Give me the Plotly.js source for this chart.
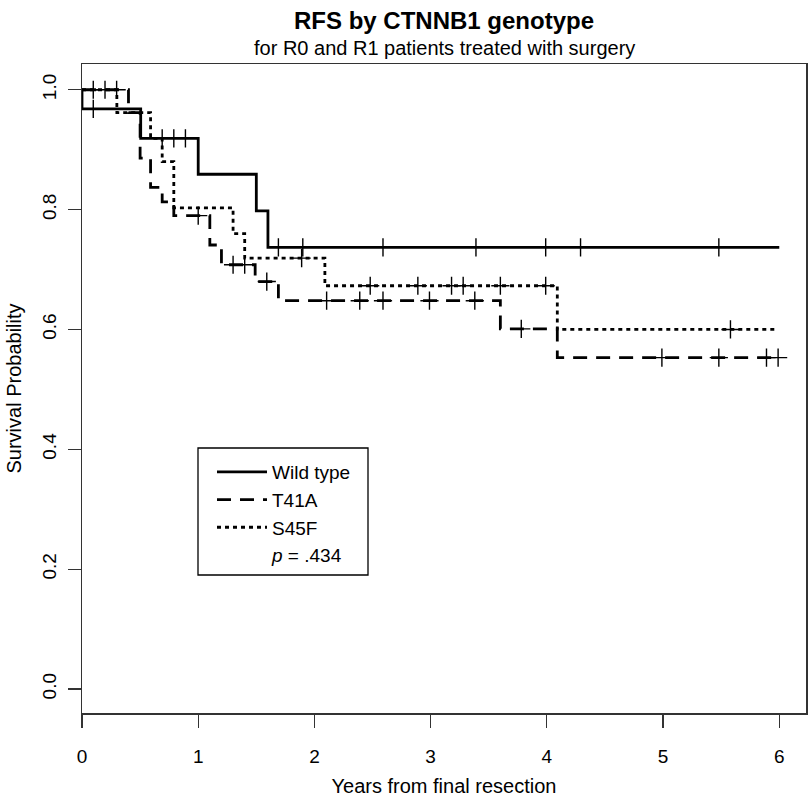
<!DOCTYPE html>
<html>
<head>
<meta charset="utf-8">
<script src="https://cdn.plot.ly/plotly-3.0.1.min.js"></script>
<style>html,body{margin:0;padding:0;background:#fff;}#chart{width:808px;height:801px;}</style>
</head>
<body>
<div id="chart"></div>
<script>
// Kaplan-Meier step data
const seriesNames = ["Wild type", "T41A", "S45F"];
const pLabel = "<i>p</i> = .434";

// Wild type
const wtTimes = [0, 0, 0.505, 1.0, 1.5, 1.6, 6.0];
const wtSurv  = [1.0, 0.968, 0.919, 0.859, 0.798, 0.737, 0.737];
const wtCensor = [0.097, 0.69, 0.79, 0.89, 1.69, 1.90, 2.59, 3.39, 3.99, 4.29, 5.48];

// T41A
const t41Times = [0, 0.40, 0.50, 0.59, 0.69, 0.79, 1.10, 1.20, 1.49, 1.69, 3.60, 4.09, 5.99];
const t41Surv  = [1.0, 0.962, 0.886, 0.837, 0.813, 0.790, 0.741, 0.708, 0.680, 0.648, 0.601, 0.553, 0.553];
const t41Censor = [0.097, 0.198, 0.298, 1.0, 1.30, 1.40, 1.59, 2.105, 2.39, 2.59, 2.99, 3.38, 3.78, 4.99, 5.48, 5.89, 5.99];

// S45F
const s45Times = [0, 0.30, 0.59, 0.69, 0.79, 1.30, 1.40, 2.09, 4.09, 5.96];
const s45Surv  = [1.0, 0.962, 0.919, 0.880, 0.803, 0.760, 0.719, 0.673, 0.600, 0.600];
const s45Censor = [1.89, 2.48, 2.89, 3.18, 3.28, 3.60, 3.99, 5.58];

const xTicks = [0, 1, 2, 3, 4, 5, 6];
const yTicks = [0, 0.2, 0.4, 0.6, 0.8, 1.0];

function stepAt(times, surv, t) {
  let s = surv[0];
  for (let i = 0; i < times.length; i++) {
    if (times[i] <= t) s = surv[i]; else break;
  }
  return s;
}

const dashes = ["solid", "14px,9px", "4px,4px"];
const groups = [
  [wtTimes, wtSurv, wtCensor],
  [t41Times, t41Surv, t41Censor],
  [s45Times, s45Surv, s45Censor]
];

const traces = [];
groups.forEach((g, i) => {
  traces.push({
    x: g[0], y: g[1], type: "scatter", mode: "lines",
    line: {shape: "hv", color: "#000", width: 2.8, dash: dashes[i]},
    name: seriesNames[i], showlegend: true, hoverinfo: "skip"
  });
});
groups.forEach((g, i) => {
  traces.push({
    x: g[2], y: g[2].map(t => stepAt(g[0], g[1], t)),
    type: "scatter", mode: "markers",
    marker: {symbol: "cross-thin-open", size: 13, color: "#000", line: {color: "#000", width: 1.4}},
    showlegend: false, hoverinfo: "skip"
  });
});
traces.push({x: [null], y: [null], type: "scatter", mode: "lines",
  line: {width: 0, color: "rgba(0,0,0,0)"}, name: pLabel, showlegend: true, hoverinfo: "skip"});

const font = "Liberation Sans, Arial, sans-serif";
const layout = {
  width: 808, height: 801,
  margin: {l: 82, r: 2, t: 64, b: 88},
  paper_bgcolor: "#fff", plot_bgcolor: "#fff",
  font: {family: font, size: 20, color: "#000"},
  showlegend: true,
  title: {text: "<b>RFS by CTNNB1 genotype</b>", font: {family: font, size: 24, color: "#000"},
          x: 0.5, xref: "paper", xanchor: "center", y: 1 - 21/801, yref: "container", yanchor: "middle"},
  xaxis: {
    range: [0, 6.23], tickvals: xTicks, ticktext: xTicks.map(String),
    ticks: "outside", ticklen: 13, tickwidth: 1.3, tickcolor: "#333",
    showline: true, mirror: true, linecolor: "#333", linewidth: 1.5,
    showgrid: false, zeroline: false, automargin: false,
    tickfont: {size: 19}, ticklabelstandoff: 13,
    title: {text: "Years from final resection", font: {size: 20}, standoff: 12}
  },
  yaxis: {
    range: [-0.04, 1.043], tickvals: yTicks, ticktext: yTicks.map(v => v.toFixed(1)),
    ticks: "outside", ticklen: 13, tickwidth: 1.3, tickcolor: "#333", tickangle: -90,
    showline: true, mirror: true, linecolor: "#333", linewidth: 1.5,
    showgrid: false, zeroline: false, automargin: false,
    tickfont: {size: 19}, ticklabelstandoff: 4,
    title: {text: "Survival Probability", font: {size: 20}, standoff: 12}
  },
  legend: {
    x: (212 - 82) / 724, y: (713 - 453) / 649, xanchor: "left", yanchor: "top", xref: "paper", yref: "paper",
    bgcolor: "rgba(0,0,0,0)", borderwidth: 0, font: {size: 19},
    itemwidth: 50, tracegroupgap: 0
  },
  shapes: [{type: "rect", xref: "paper", yref: "paper",
    x0: (198 - 82) / 724, x1: (368 - 82) / 724, y0: (713 - 575) / 649, y1: (713 - 448) / 649,
    line: {color: "#000", width: 1.3}}],
  annotations: [{text: "for R0 and R1 patients treated with surgery", xref: "paper", yref: "paper",
    x: 0.5, y: (713 - 48) / 649, xanchor: "center", yanchor: "middle", showarrow: false,
    font: {size: 20, color: "#000"}}]
};

Plotly.newPlot("chart", traces, layout, {staticPlot: true, displayModeBar: false});
</script>
</body>
</html>
